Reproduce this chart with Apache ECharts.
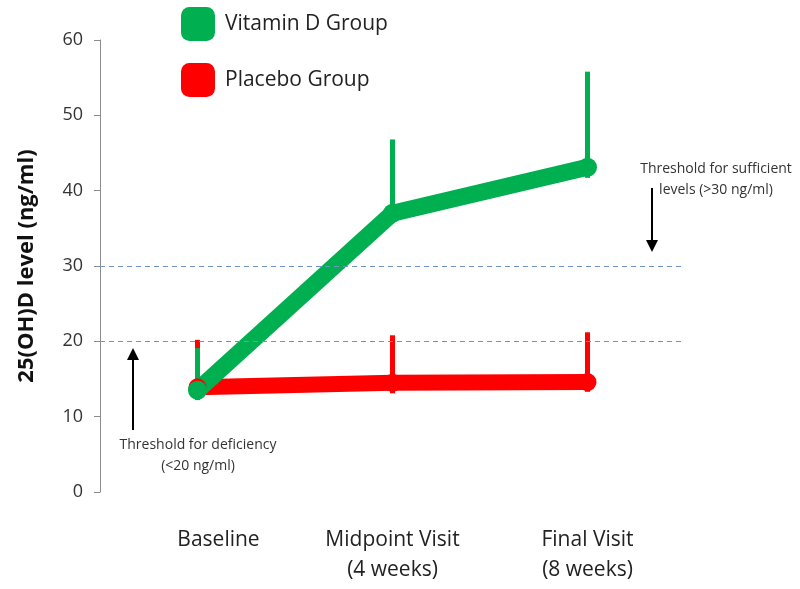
<!DOCTYPE html>
<html>
<head>
<meta charset="utf-8">
<script src="https://cdn.jsdelivr.net/npm/echarts@6/dist/echarts.min.js"></script>
<style>html,body{margin:0;padding:0;background:#fff}#c{width:800px;height:589px}</style>
</head>
<body>
<div id="c"></div>
<script>
const categories = ['Baseline', 'Midpoint Visit\n(4 weeks)', 'Final Visit\n(8 weeks)'];
const vitaminD = [13.5, 37.0, 43.1];
const vitaminDLow = [12.2, 35.8, 41.7];
const vitaminDHigh = [19.1, 46.8, 55.8];
const placebo = [13.9, 14.5, 14.6];
const placeboLow = [12.6, 13.1, 13.3];
const placeboHigh = [20.2, 20.8, 21.2];
const yTicks = [0, 10, 20, 30, 40, 50, 60];
const thresholds = [30, 20];

const GREEN = '#00b050', RED = '#ff0000';
const font = '"Open Sans", "Noto Sans", sans-serif';

function errData(lo, hi) { return lo.map((v, i) => [i, v, hi[i]]); }
function errSeries(name, lo, hi, color) {
  return {
    type: 'custom', name: name + ' err', silent: true,
    data: errData(lo, hi),
    encode: { x: 0, y: [1, 2] },
    renderItem: function (params, api) {
      const a = api.coord([api.value(0), api.value(1)]);
      const b = api.coord([api.value(0), api.value(2)]);
      return { type: 'line', shape: { x1: a[0], y1: a[1], x2: b[0], y2: b[1] },
        style: { stroke: color, lineWidth: 5 } };
    }
  };
}

const chart = echarts.init(document.getElementById('c'));
chart.setOption({
  animation: false,
  grid: { left: 100, right: 115, top: 40, bottom: 97 },
  legend: {
    orient: 'vertical', left: 181, top: 7, padding: 0,
    icon: 'roundRect', itemWidth: 34, itemHeight: 34, itemGap: 22,
    data: ['Vitamin D Group', 'Placebo Group'],
    textStyle: { fontSize: 21, color: '#222', fontFamily: font, padding: [0, 0, 0, 5] }
  },
  xAxis: {
    type: 'category', data: categories,
    axisLine: { show: false }, axisTick: { show: false },
    axisLabel: {
      margin: 33, fontSize: 21, lineHeight: 30, color: '#222', fontFamily: font,
      formatter: function (v) { return v === 'Baseline' ? '{b|' + v + '}' : v; },
      rich: { b: { fontSize: 21, lineHeight: 30, color: '#222', fontFamily: font, padding: [0, 0, 0, 42] } }
    }
  },
  yAxis: {
    type: 'value', min: 0, max: 60, interval: 10,
    name: '25(OH)D level (ng/ml)', nameLocation: 'middle', nameGap: 62,
    nameTextStyle: { fontSize: 22, fontWeight: 'bold', color: '#111', fontFamily: font },
    axisLine: { show: true, lineStyle: { color: '#8c8c8c', width: 1 } },
    axisTick: { show: true, length: 6, lineStyle: { color: '#8c8c8c' } },
    axisLabel: { fontSize: 18, color: '#333', margin: 17, fontFamily: font,
      formatter: function (v) { return yTicks.indexOf(v) >= 0 ? String(v) : ''; } },
    splitLine: { show: false }
  },
  series: [
    errSeries('Placebo Group', placeboLow, placeboHigh, RED),
    {
      type: 'line', name: 'Placebo Group', data: placebo,
      lineStyle: { color: RED, width: 16 }, itemStyle: { color: RED },
      symbol: 'circle', symbolSize: 18, showSymbol: true,
      markLine: {
        silent: true, symbol: 'none', label: { show: false },
        lineStyle: { color: '#6f95c8', type: [5, 4], width: 1 },
        data: thresholds.map(t => ({ yAxis: t }))
      }
    },
    errSeries('Vitamin D Group', vitaminDLow, vitaminDHigh, GREEN),
    {
      type: 'line', name: 'Vitamin D Group', data: vitaminD,
      lineStyle: { color: GREEN, width: 17 }, itemStyle: { color: GREEN },
      symbol: 'circle', symbolSize: 19, showSymbol: true
    }
  ],
  graphic: [
    { type: 'line', shape: { x1: 133, y1: 430, x2: 133, y2: 356 }, style: { stroke: '#000', lineWidth: 2 } },
    { type: 'polygon', shape: { points: [[127, 360], [139, 360], [133, 348]] }, style: { fill: '#000' } },
    { type: 'text', style: { text: 'Threshold for deficiency\n(<20 ng/ml)', x: 198, y: 435, align: 'center',
        fontSize: 14, lineHeight: 21, fill: '#333', fontFamily: font } },
    { type: 'line', shape: { x1: 652, y1: 188, x2: 652, y2: 244 }, style: { stroke: '#000', lineWidth: 2 } },
    { type: 'polygon', shape: { points: [[646, 240], [658, 240], [652, 252]] }, style: { fill: '#000' } },
    { type: 'text', style: { text: 'Threshold for sufficient\nlevels (>30 ng/ml)', x: 716, y: 159, align: 'center',
        fontSize: 14, lineHeight: 21, fill: '#333', fontFamily: font } }
  ]
});
</script>
</body>
</html>
